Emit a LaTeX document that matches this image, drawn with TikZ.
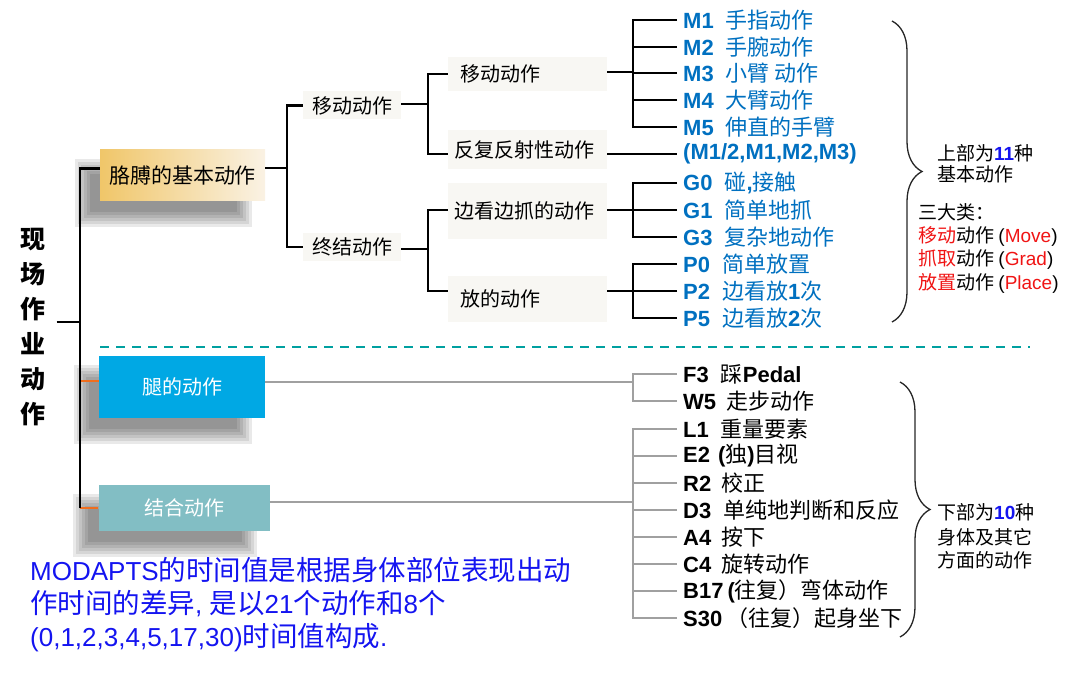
\documentclass[tikz,border=0pt]{standalone}
\usepackage{fontspec}
\setmainfont{Noto Sans CJK SC}
\setsansfont{Liberation Sans}
\usepackage{xcolor}
\usetikzlibrary{positioning,calc,backgrounds,decorations.pathreplacing}
\definecolor{codeblue}{RGB}{0,112,192}
\definecolor{armL}{RGB}{240,198,105}
\definecolor{armR}{RGB}{250,242,228}
\definecolor{legcyan}{RGB}{0,168,228}
\definecolor{combteal}{RGB}{130,190,196}
\definecolor{subbg}{RGB}{248,247,243}
\definecolor{stuborange}{RGB}{240,110,30}
\definecolor{linegray}{RGB}{160,160,160}
\definecolor{dashteal}{RGB}{0,160,160}
\definecolor{numblue}{RGB}{20,20,240}
\definecolor{notered}{RGB}{240,20,20}
\newcommand{\cd}[1]{{\sffamily\bfseries #1}}
\newcommand{\bl}[1]{{\sffamily\fontsize{26}{33}\selectfont #1}}

\begin{document}
\begin{tikzpicture}[x=1pt, y=-1pt,
  every node/.style={font=\fontsize{20}{24}\selectfont},
  blk/.style={line width=2.8pt, black},
  gry/.style={line width=2.8pt, linegray},
  org/.style={line width=2.8pt, stuborange},
  shdlayer/.style={black, opacity=.085},
  subbox/.style={fill=subbg, inner sep=0pt},
  leftbox/.style={subbox, minimum width=159pt, text width=147pt, align=left},
  upitem/.style={anchor=west, inner xsep=6pt, inner ysep=0pt, text=codeblue, font=\fontsize{22}{24}\selectfont},
  lowitem/.style={anchor=west, inner xsep=6pt, inner ysep=0pt, font=\fontsize{22}{24}\selectfont},
  note/.style={anchor=west, inner sep=0pt, font=\fontsize{19}{22}\selectfont},
  brc/.style={decorate, decoration={brace, amplitude=30pt}, line width=1.3pt, black!85}]
\useasboundingbox (0,0) rectangle (1080,674);

\node[align=center, inner xsep=11pt, font=\fontsize{25}{35}\selectfont\bfseries] (root) at (33,327) {现\\场\\作\\业\\动\\作};

\node[minimum width=165pt, minimum height=51pt, left color=armL, right color=armR, font=\fontsize{21}{24}\selectfont] (arm) at (182.5,175.5) {胳膊的基本动作};
\node[minimum width=166pt, minimum height=62pt, fill=legcyan, text=white] (legs) at (182,387) {腿的动作};
\node[minimum width=171pt, minimum height=46pt, fill=combteal, text=white] (comb) at (184,508) {结合动作};

\begin{scope}[on background layer]
\foreach \bx in {arm,legs,comb}
  \foreach \r in {-6,-3,0,3,6,9}
    \fill[shdlayer] ($(\bx.north west)+(-16-\r,18-\r)$) rectangle ($(\bx.south east)+(-22+\r,17+\r)$);
\end{scope}

\node[subbox, minimum width=98pt, minimum height=28pt] (mv) at (352,105.5) {移动动作};
\node[subbox, minimum width=98pt, minimum height=28pt] (fin) at (352,247) {终结动作};
\node[leftbox, minimum height=34pt] (mv2) at (527.5,74) {\hspace{6pt}移动动作};
\node[leftbox, minimum height=39pt] (rfx) at (527.5,149.5) {反复反射性动作};
\node[leftbox, minimum height=56pt] (grab) at (527.5,211) {边看边抓的动作};
\node[leftbox, minimum height=46pt] (put) at (527.5,299) {\hspace{6pt}放的动作};

\node[upitem] (m1) at (677,20) {\cd{M1}\hspace{12pt}手指动作};
\node[upitem] (m2) at (677,47) {\cd{M2}\hspace{12pt}手腕动作};
\node[upitem] (m3) at (677,73) {\cd{M3}\hspace{12pt}小臂 动作};
\node[upitem] (m4) at (677,100) {\cd{M4}\hspace{12pt}大臂动作};
\node[upitem] (m5) at (677,127) {\cd{M5}\hspace{12pt}伸直的手臂};
\node[upitem] (mm) at (677,154) {\cd{(M1/2,M1,M2,M3)}};
\node[upitem] (g0) at (677,183) {\cd{G0}\hspace{12pt}碰\cd{,}接触};
\node[upitem] (g1) at (677,210) {\cd{G1}\hspace{12pt}简单地抓};
\node[upitem] (g3) at (677,237) {\cd{G3}\hspace{12pt}复杂地动作};
\node[upitem] (p0) at (677,264) {\cd{P0}\hspace{12pt}简单放置};
\node[upitem] (p2) at (677,291) {\cd{P2}\hspace{12pt}边看放\cd{1}次};
\node[upitem] (p5) at (677,318) {\cd{P5}\hspace{12pt}边看放\cd{2}次};

\node[lowitem] (f3) at (677,374) {\cd{F3}\hspace{12pt}踩\cd{Pedal}};
\node[lowitem] (w5) at (677,401) {\cd{W5}\hspace{10pt}走步动作};
\node[lowitem] (l1) at (677,429) {\cd{L1}\hspace{12pt}重量要素};
\node[lowitem] (e2) at (677,456) {\cd{E2}\hspace{8pt}\cd{(}独\cd{)}目视};
\node[lowitem] (r2) at (677,483) {\cd{R2}\hspace{10pt}校正};
\node[lowitem] (d3) at (677,510) {\cd{D3}\hspace{12pt}单纯地判断和反应};
\node[lowitem] (a4) at (677,537) {\cd{A4}\hspace{10pt}按下};
\node[lowitem] (c4) at (677,564) {\cd{C4}\hspace{10pt}旋转动作};
\node[lowitem] (b17) at (677,591) {\cd{B17}\hspace{4pt}\cd{(}往复）弯体动作};
\node[lowitem] (s30) at (677,618) {\cd{S30}\hspace{4pt}（往复）起身坐下};

\coordinate (fkR) at (80,322);
\coordinate (fkA) at (287,168);
\coordinate (fkB) at (428,104);
\coordinate (fkC) at (428,249);
\coordinate (fkM) at (633,72);
\coordinate (fkG) at (633,210);
\coordinate (fkP) at (633,291);
\coordinate (fkL) at (633,382);
\coordinate (fkK) at (633,502);

\draw[org] ([yshift=6pt]legs.west) -- ([yshift=6pt]legs.west -| fkR);
\draw[org] (comb.west) -- (comb.west -| fkR);
\draw[blk] (root.east |- fkR) -- (fkR);
\draw[blk] ([yshift=7pt]arm.west) -| (fkR);
\draw[blk] (fkR) -- (fkR |- comb.west);

\draw[blk] (arm.east |- fkA) -- (fkA);
\draw[blk] (mv.west) -| (fkA);
\draw[blk] (fin.west) -| (fkA);
\draw[blk] (mv.east |- fkB) -- (fkB);
\draw[blk] (mv2.west) -| (fkB);
\draw[blk] (rfx.west |- mm.west) -| (fkB);
\draw[blk] (fin.east |- fkC) -- (fkC);
\draw[blk] (grab.west |- fkG) -| (fkC);
\draw[blk] (put.west |- fkP) -| (fkC);

\draw[blk] (mv2.east |- fkM) -- (fkM);
\draw[blk] (m1.west) -| (fkM);
\draw[blk] (m2.west) -| (fkM);
\draw[blk] (m3.west) -| (fkM);
\draw[blk] (m4.west) -| (fkM);
\draw[blk] (m5.west) -| (fkM);
\draw[blk] (rfx.east |- mm.west) -- (mm.west);
\draw[blk] (grab.east |- fkG) -- (fkG);
\draw[blk] (g0.west) -| (fkG);
\draw[blk] (g1.west) -| (fkG);
\draw[blk] (g3.west) -| (fkG);
\draw[blk] (put.east |- fkP) -- (fkP);
\draw[blk] (p0.west) -| (fkP);
\draw[blk] (p2.west) -| (fkP);
\draw[blk] (p5.west) -| (fkP);

\draw[gry] (legs.east |- fkL) -- (fkL);
\draw[gry] (f3.west) -| (fkL);
\draw[gry] (w5.west) -| (fkL);
\draw[gry] (comb.east |- fkK) -- (fkK);
\draw[gry] (l1.west) -| (fkK);
\draw[gry] (e2.west) -| (fkK);
\draw[gry] (r2.west) -| (fkK);
\draw[gry] (d3.west) -| (fkK);
\draw[gry] (a4.west) -| (fkK);
\draw[gry] (c4.west) -| (fkK);
\draw[gry] (b17.west) -| (fkK);
\draw[gry] (s30.west) -| (fkK);

\draw[dashteal, line width=2pt, dash pattern=on 9pt off 7pt] (100,347) -- (1030,347);

\coordinate (bu1) at (892,21);
\coordinate (bu2) at (892,322);
\coordinate (bd1) at (900,382);
\coordinate (bd2) at (900,637);
\draw[brc] (bu1) -- (bu2);
\draw[brc] (bd1) -- (bd2);

\node[note] (up1) at (937,153) {上部为\textcolor{numblue}{\cd{11}}种};
\node[note] (up2) at (937,174) {基本动作};
\node[note] (cls) at (918,212) {三大类：};
\node[note] (cl1) at (918,236) {\textcolor{notered}{移动}动作 {\sffamily(\textcolor{notered}{Move})}};
\node[note] (cl2) at (918,259) {\textcolor{notered}{抓取}动作 {\sffamily(\textcolor{notered}{Grad})}};
\node[note] (cl3) at (918,283) {\textcolor{notered}{放置}动作 {\sffamily(\textcolor{notered}{Place})}};
\node[note] (dn1) at (937,512) {下部为\textcolor{numblue}{\cd{10}}种};
\node[note] (dn2) at (937,537) {身体及其它};
\node[note] (dn3) at (937,560) {方面的动作};

\node[anchor=north west, inner sep=0pt, align=left, text=numblue, font=\fontsize{27.5}{33}\selectfont] (sum) at (30,557) {\bl{MODAPTS}的时间值是根据身体部位表现出动\\作时间的差异\bl{, }是以\bl{21}个动作和\bl{8}个\\\bl{(0,1,2,3,4,5,17,30)}时间值构成\bl{.}};
\end{tikzpicture}
\end{document}
